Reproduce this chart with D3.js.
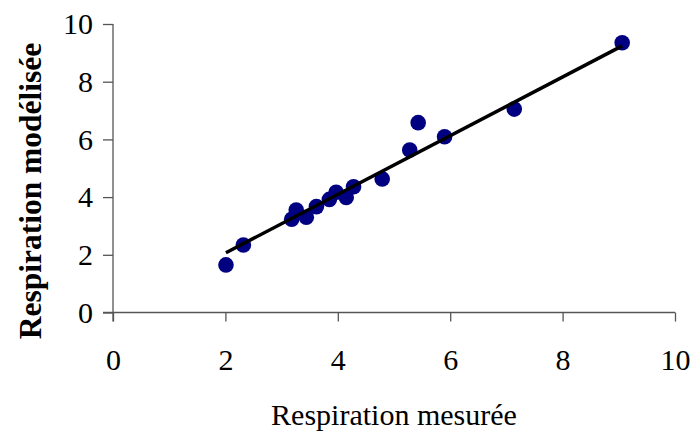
<!DOCTYPE html>
<html><head><meta charset="utf-8">
<script src="https://cdn.jsdelivr.net/npm/d3@7"></script>
<style>html,body{margin:0;padding:0;background:#fff;}svg{display:block;}</style>
</head><body>
<svg id="c" width="692" height="434"></svg>
<script>
const measured = [2.01, 2.32, 3.18, 3.26, 3.44, 3.62, 3.85, 3.97, 4.15, 4.28, 4.79, 5.28, 5.43, 5.90, 7.14, 9.06];
const modeled  = [1.65, 2.34, 3.23, 3.55, 3.30, 3.67, 3.92, 4.17, 3.99, 4.36, 4.63, 5.63, 6.58, 6.09, 7.05, 9.35];
const fitX = [2.01, 9.06];
const fitY = [2.07, 9.24];
const xTicks = [0, 2, 4, 6, 8, 10];
const yTicks = [0, 2, 4, 6, 8, 10];
const xTitle = "Respiration mesurée";
const yTitle = "Respiration modélisée";

const svg = d3.select("#c");
const x = d3.scaleLinear().domain([0, 10]).range([113, 675]);
const y = d3.scaleLinear().domain([0, 10]).range([312.5, 24]);
const font = "'Liberation Serif','Times New Roman',serif";
const axisCol = "#555";

const gx = svg.append("g").attr("transform", `translate(0,${y(0)})`)
  .call(d3.axisBottom(x).tickValues(xTicks).tickSize(9).tickPadding(27).tickSizeOuter(0));
const gy = svg.append("g").attr("transform", `translate(${x(0)},0)`)
  .call(d3.axisLeft(y).tickValues(yTicks).tickSize(10).tickPadding(10).tickSizeOuter(0));
[gx, gy].forEach(g => {
  g.select(".domain").attr("stroke", axisCol).attr("stroke-width", 1.3);
  g.selectAll(".tick line").attr("stroke", axisCol).attr("stroke-width", 1.3);
  g.selectAll(".tick text").attr("font-family", font).attr("font-size", 30).attr("fill", "#000");
});
gx.select(".domain").attr("d", `M${x(0)-10},0H${x(10)}`);
gy.select(".domain").attr("d", `M0,${y(0)+9}V${y(10)}`);

svg.append("g").selectAll("circle").data(measured).join("circle")
  .attr("cx", (d) => x(d)).attr("cy", (d, i) => y(modeled[i])).attr("r", 7.8)
  .attr("fill", "#000080");

svg.append("line")
  .attr("x1", x(fitX[0])).attr("y1", y(fitY[0]))
  .attr("x2", x(fitX[1])).attr("y2", y(fitY[1]))
  .attr("stroke", "#000").attr("stroke-width", 3.5);

svg.append("text").attr("x", (x(0)+x(10))/2).attr("y", 425)
  .attr("text-anchor", "middle").attr("font-family", font).attr("font-size", 30)
  .text(xTitle);
svg.append("text").attr("transform", "translate(41,191) rotate(-90)")
  .attr("text-anchor", "middle").attr("font-family", font).attr("font-size", 31.5)
  .attr("font-weight", "bold").text(yTitle);
</script>
</body></html>
